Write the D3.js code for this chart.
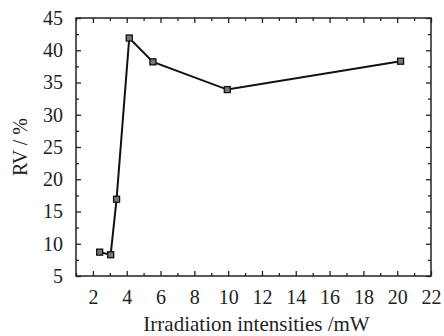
<!DOCTYPE html>
<html>
<head>
<meta charset="utf-8">
<script src="https://cdn.jsdelivr.net/npm/d3@7"></script>
<style>
  body { margin: 0; background: #fff; }
  text { font-family: "Liberation Serif", "Times New Roman", serif; fill: #222; }
</style>
</head>
<body>
<svg id="chart" width="444" height="336"></svg>
<script>
// data
const intensities = [2.4, 3.05, 3.4, 4.15, 5.55, 9.95, 20.2];
const rvValues = [8.7, 8.3, 16.9, 41.9, 38.2, 33.9, 38.3];
const xTicks = [2, 4, 6, 8, 10, 12, 14, 16, 18, 20, 22];
const yTicks = [5, 10, 15, 20, 25, 30, 35, 40, 45];

const svg = d3.select('#chart');
const margin = { top: 18, right: 13, bottom: 60, left: 76 };
const width = +svg.attr('width');
const height = +svg.attr('height');
const innerWidth = width - margin.left - margin.right;
const innerHeight = height - margin.top - margin.bottom;

const chart = svg.append('g')
  .attr('transform', `translate(${margin.left},${margin.top})`);

const xScale = d3.scaleLinear().domain([1, 22]).range([0, innerWidth]);
const yScale = d3.scaleLinear().domain([5, 45]).range([innerHeight, 0]);

// minor ticks: odd values on x, halfway on y
const xMinor = d3.range(1, 22, 1).filter(d => d % 2 === 1);
const yMinor = d3.range(7.5, 45, 5);

const styleAxis = g => {
  g.select('.domain').remove();
  g.attr('font-family', null).attr('font-size', null);
  g.selectAll('.tick line').attr('stroke', '#222').attr('stroke-width', 1.3);
  g.selectAll('.tick text').filter(function () { return this.textContent === ''; }).remove();
  g.selectAll('.tick text').style('font-size', '20px');
};

// bottom axis with labels, ticks pointing inward
chart.append('g')
  .attr('transform', `translate(0,${innerHeight})`)
  .call(d3.axisBottom(xScale).tickValues(xTicks).tickSize(-5).tickPadding(14).tickFormat(d3.format('d')))
  .call(styleAxis);
chart.append('g')
  .attr('transform', `translate(0,${innerHeight})`)
  .call(d3.axisBottom(xScale).tickValues(xMinor).tickSize(-3).tickFormat(''))
  .call(styleAxis);

// top axis mirrors
chart.append('g')
  .call(d3.axisTop(xScale).tickValues(xTicks).tickSize(-5).tickFormat(''))
  .call(styleAxis);
chart.append('g')
  .call(d3.axisTop(xScale).tickValues(xMinor).tickSize(-3).tickFormat(''))
  .call(styleAxis);

// left axis
chart.append('g')
  .call(d3.axisLeft(yScale).tickValues(yTicks).tickSize(-5).tickPadding(13))
  .call(styleAxis);
chart.append('g')
  .call(d3.axisLeft(yScale).tickValues(yMinor).tickSize(-3).tickFormat(''))
  .call(styleAxis);

// right axis
chart.append('g')
  .attr('transform', `translate(${innerWidth},0)`)
  .call(d3.axisRight(yScale).tickValues(yTicks).tickSize(-5).tickFormat(''))
  .call(styleAxis);
chart.append('g')
  .attr('transform', `translate(${innerWidth},0)`)
  .call(d3.axisRight(yScale).tickValues(yMinor).tickSize(-3).tickFormat(''))
  .call(styleAxis);

// frame
chart.append('rect')
  .attr('width', innerWidth)
  .attr('height', innerHeight)
  .attr('fill', 'none')
  .attr('stroke', '#222')
  .attr('stroke-width', 1.5);

// the line
const points = intensities.map((x, i) => ({ x, y: rvValues[i] }));
const line = d3.line().x(d => xScale(d.x)).y(d => yScale(d.y));
chart.append('path')
  .datum(points)
  .attr('d', line)
  .attr('fill', 'none')
  .attr('stroke', '#111')
  .attr('stroke-width', 2);

// square markers
chart.selectAll('.marker').data(points)
  .enter().append('rect')
    .attr('class', 'marker')
    .attr('x', d => xScale(d.x) - 3)
    .attr('y', d => yScale(d.y) - 3)
    .attr('width', 6)
    .attr('height', 6)
    .attr('fill', '#777')
    .attr('stroke', '#111')
    .attr('stroke-width', 1.3);

// axis titles
svg.append('text')
  .attr('x', margin.left + innerWidth / 2 + 3)
  .attr('y', 331)
  .attr('text-anchor', 'middle')
  .style('font-size', '21px')
  .text('Irradiation intensities /mW');

svg.append('text')
  .attr('transform', `translate(27,${margin.top + innerHeight / 2}) rotate(-90)`)
  .attr('text-anchor', 'middle')
  .style('font-size', '20px')
  .text('RV / %');
</script>
</body>
</html>
